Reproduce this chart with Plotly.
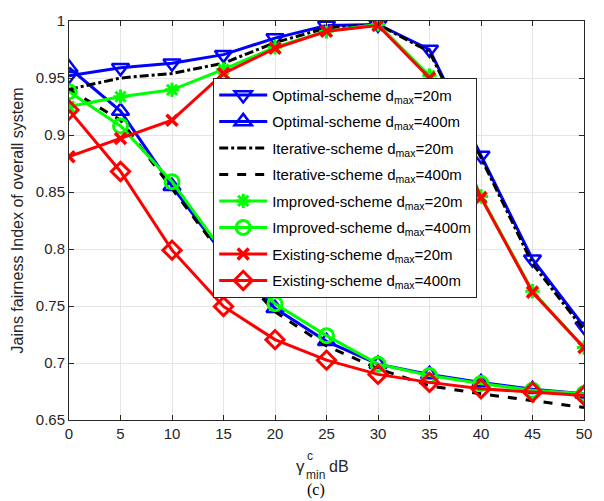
import plotly.graph_objects as go

gamma = [0, 5, 10, 15, 20, 25, 30, 35, 40, 45, 50]

opt_20 = [0.952, 0.959, 0.963, 0.9705, 0.985, 0.996, 0.997, 0.975, 0.882, 0.791, 0.732]
opt_400 = [0.959, 0.921, 0.855, 0.795, 0.748, 0.719, 0.699, 0.690, 0.683, 0.677, 0.673]
iter_20 = [0.940, 0.950, 0.954, 0.963, 0.981, 0.994, 0.997, 0.973, 0.880, 0.787, 0.729]
iter_400 = [0.940, 0.913, 0.853, 0.793, 0.745, 0.715, 0.695, 0.680, 0.673, 0.667, 0.661]
imp_20 = [0.925, 0.9336, 0.9396, 0.9575, 0.977, 0.991, 0.997, 0.952, 0.846, 0.763, 0.7135]
imp_400 = [0.938, 0.908, 0.859, 0.797, 0.752, 0.724, 0.699, 0.689, 0.682, 0.676, 0.673]
ex_20 = [0.881, 0.897, 0.913, 0.954, 0.976, 0.991, 0.996, 0.950, 0.845, 0.762, 0.7135]
ex_400 = [0.922, 0.868, 0.799, 0.7496, 0.7205, 0.7025, 0.690, 0.683, 0.6774, 0.6745, 0.6716]

names = [
    "Optimal-scheme d<sub>max</sub>=20m",
    "Optimal-scheme d<sub>max</sub>=400m",
    "Iterative-scheme d<sub>max</sub>=20m",
    "Iterative-scheme d<sub>max</sub>=400m",
    "Improved-scheme d<sub>max</sub>=20m",
    "Improved-scheme d<sub>max</sub>=400m",
    "Existing-scheme d<sub>max</sub>=20m",
    "Existing-scheme d<sub>max</sub>=400m",
]

BLUE = "#0000FF"
GREEN = "#00FF00"
RED = "#FF0000"

series = [
    (opt_20, BLUE, "solid", "triangle-down-open", 15, 2.5),
    (opt_400, BLUE, "solid", "triangle-up-open", 15, 2.5),
    (iter_20, "black", "dashdot", None, 0, 0),
    (iter_400, "black", "dash", None, 0, 0),
    (imp_20, GREEN, "solid", "asterisk-open", 12, 3),
    (imp_400, GREEN, "solid", "circle-open", 14, 3),
    (ex_20, RED, "solid", "x-thin-open", 11, 3.5),
    (ex_400, RED, "solid", "diamond-open", 14, 3),
]

fig = go.Figure()
for i, ((vals, col, dash, sym, msize, mlw), nm) in enumerate(zip(series, names)):
    if sym is None:
        fig.add_trace(go.Scatter(
            x=gamma, y=vals, name=nm, mode="lines", legendgroup=str(i),
            line=dict(color=col, width=3, dash=dash),
        ))
    else:
        fig.add_trace(go.Scatter(
            x=gamma, y=vals, name=nm, mode="lines+markers", legendgroup=str(i),
            line=dict(color=col, width=3, dash=dash),
            marker=dict(symbol=sym, size=msize, color=col,
                        line=dict(color=col, width=mlw)),
        ))

FONT = "Liberation Sans, Arial, sans-serif"
axis_common = dict(
    showline=True, linecolor="#262626", linewidth=1, mirror="ticks",
    ticks="inside", ticklen=5, tickcolor="#262626",
    showgrid=True, gridcolor="#e5e5e5", gridwidth=1,
    zeroline=False,
    tickfont=dict(family=FONT, size=15, color="#262626"),
)

fig.update_layout(
    width=604, height=501,
    margin=dict(l=69, r=14, t=16, b=81),
    paper_bgcolor="white", plot_bgcolor="white",
    font=dict(family=FONT, size=15, color="#262626"),
    xaxis=dict(range=[0, 50], dtick=5, tick0=0, **axis_common),
    yaxis=dict(range=[0.65, 1], dtick=0.05, tick0=0.65,
               title=dict(text="Jains fairness Index of overall system",
                          font=dict(size=16, color="#262626"), standoff=8),
               **axis_common),
    showlegend=True,
    legend=dict(
        x=0.28, y=0.858, xanchor="left", yanchor="top",
        bgcolor="white", bordercolor="#262626", borderwidth=1,
        font=dict(family=FONT, size=15, color="black"),
        itemwidth=48, tracegroupgap=4,
    ),
)

W, TOP, BOT, LEFT = 521, 16, 420, 69
def px(xp):
    return (xp - LEFT) / W
def py(yp):
    return (BOT - yp) / (BOT - TOP)

ann_font = dict(family=FONT, color="#262626")
fig.add_annotation(xref="paper", yref="paper", x=px(303), y=py(467),
                   text="γ", showarrow=False, font=dict(size=17, **ann_font),
                   xanchor="center", yanchor="middle")
fig.add_annotation(xref="paper", yref="paper", x=px(308), y=py(456),
                   text="c", showarrow=False, font=dict(size=12, **ann_font),
                   xanchor="left", yanchor="middle")
fig.add_annotation(xref="paper", yref="paper", x=px(307), y=py(476),
                   text="min", showarrow=False, font=dict(size=12, **ann_font),
                   xanchor="left", yanchor="middle")
fig.add_annotation(xref="paper", yref="paper", x=px(330), y=py(467),
                   text="dB", showarrow=False, font=dict(size=16, **ann_font),
                   xanchor="left", yanchor="middle")
fig.add_annotation(xref="paper", yref="paper", x=px(319), y=py(491),
                   text="(c)", showarrow=False,
                   font=dict(family="Liberation Serif, Times New Roman, serif", size=16, color="black"),
                   xanchor="center", yanchor="middle")

fig.write_html("out.html", config={"displayModeBar": False},
               post_script="document.body.style.margin='0';document.body.style.overflow='hidden';")
